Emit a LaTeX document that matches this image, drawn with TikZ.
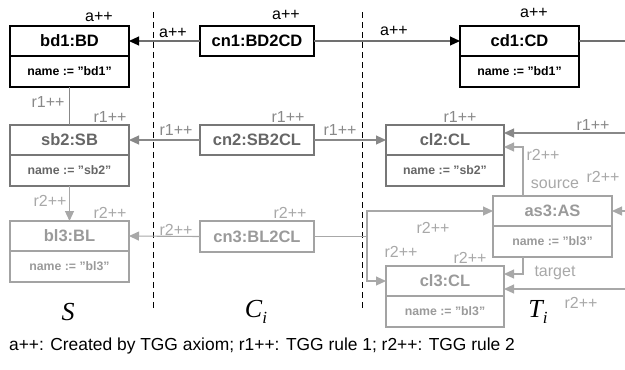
\documentclass[tikz,border=0pt]{standalone}
\usepackage{fontspec}
\setmainfont{Liberation Sans}
\newfontfamily\serifit{Liberation Serif}
\usetikzlibrary{arrows.meta,calc}

\definecolor{txtB}{HTML}{666666}
\definecolor{boxB}{HTML}{777777}
\definecolor{txtC}{HTML}{9A9A9A}
\definecolor{boxC}{HTML}{A3A3A3}
\definecolor{lnA}{HTML}{707070}
\definecolor{lnB}{HTML}{888888}
\definecolor{lnC}{HTML}{A8A8A8}

\tikzset{
  hdr/.style={draw, rectangle, outer sep=0pt, inner sep=0pt, anchor=north west,
    minimum width=119pt, minimum height=30pt,
    font=\fontsize{16.5}{18}\selectfont\bfseries},
  bdy/.style={draw, rectangle, outer sep=0pt, inner sep=0pt, anchor=north,
    minimum width=119pt, minimum height=31pt,
    font=\fontsize{12.3}{14}\selectfont\bfseries},
  lvA/.style={line width=1.4pt, draw=black, text=black},
  lvB/.style={line width=1.2pt, draw=boxB, text=txtB},
  lvC/.style={line width=1.2pt, draw=boxC, text=txtC},
  tag/.style={inner sep=0pt, font=\fontsize{16}{18}\selectfont},
  tagA/.style={tag, text=black},
  tagB/.style={tag, text=lnB},
  tagC/.style={tag, text=lnC},
  lnkA/.style={draw=lnA, line width=1.1pt, -{Triangle[length=10pt,width=9pt,fill=black,color=black]}},
  lnkAplain/.style={draw=lnA, line width=1.1pt},
  lnkB/.style={draw=lnB, line width=1.1pt, -{Triangle[length=10pt,width=9pt]}},
  lnkBplain/.style={draw=lnB, line width=1.1pt},
  lnkC/.style={draw=lnC, line width=1.1pt, -{Triangle[length=10pt,width=9pt]}},
  lnkCplain/.style={draw=lnC, line width=1.1pt},
  domtag/.style={font=\fontsize{26}{28}\selectfont\serifit\itshape, inner sep=0pt},
}

\begin{document}
\begin{tikzpicture}[x=1pt, y=-1pt]
\useasboundingbox (0,0) rectangle (625,370);

% domain separators
\draw[line width=0.9pt, dash pattern=on 6pt off 4pt] (153,12) -- (153,310);
\draw[line width=0.9pt, dash pattern=on 6pt off 4pt] (362,12) -- (362,310);

% ---- axiom row ----
\node[hdr, lvA] (bd1) at (10,26) {bd1:BD};
\node[bdy, lvA] (bd1b) at (bd1.south) {name := "bd1"};
\node[hdr, lvA, minimum width=114pt] (cn1) at (200,26) {cn1:BD2CD};
\node[hdr, lvA] (cd1) at (460,26) {cd1:CD};
\node[bdy, lvA] (cd1b) at (cd1.south) {name := "bd1"};

% ---- rule 1 row ----
\node[hdr, lvB] (sb2) at (10,125) {sb2:SB};
\node[bdy, lvB] (sb2b) at (sb2.south) {name := "sb2"};
\node[hdr, lvB, minimum width=114pt] (cn2) at (200,125) {cn2:SB2CL};
\node[hdr, lvB, minimum width=118pt] (cl2) at (386,125) {cl2:CL};
\node[bdy, lvB, minimum width=118pt] (cl2b) at (cl2.south) {name := "sb2"};

% ---- rule 2 row ----
\node[hdr, lvC] (bl3) at (10,221) {bl3:BL};
\node[bdy, lvC] (bl3b) at (bl3.south) {name := "bl3"};
\node[hdr, lvC, minimum width=114pt, minimum height=31pt] (cn3) at (200,221) {cn3:BL2CL};
\node[hdr, lvC] (as3) at (493,196) {as3:AS};
\node[bdy, lvC] (as3b) at (as3.south) {name := "bl3"};
\node[hdr, lvC, minimum width=118pt] (cl3) at (386,266) {cl3:CL};
\node[bdy, lvC, minimum width=118pt] (cl3b) at (cl3.south) {name := "bl3"};

% free ends at the right border and bend points
\coordinate (edge) at (625,0);
\coordinate (inA) at (625,133);
\coordinate (inB) at (625,289);
\coordinate (srcbend) at (523,147);
\coordinate (tgtbend) at (523,274);
\coordinate (fork) at (367,237);

% ---- connectors ----
\draw[lnkA] (cn1.west) -- (bd1.east);
\draw[lnkA] (cn1.east) -- (cd1.west);
\draw[lnkAplain] (cd1.east) -- (cd1.east -| edge);

\draw[lnkBplain] (bd1b.south) -- (sb2.north);
\draw[lnkB] (cn2.west) -- (sb2.east);
\draw[lnkB] (cn2.east) -- (cl2.west);
\draw[lnkB] (inA) -- (inA -| cl2.east);

\draw[lnkC] (sb2b.south) -- (bl3.north);
\draw[lnkC] (cn3.west) -- (bl3.east);
\draw[lnkCplain] (cn3.east) -- (fork |- cn3.east);
\draw[lnkC] (fork |- cn3.east) |- (as3.west);
\draw[lnkC] (fork |- cn3.east) |- (cl3.west);
\draw[lnkC] (srcbend |- as3.north) |- (cl2.east |- srcbend);
\draw[lnkC] (tgtbend |- as3b.south) |- (cl3.east |- tgtbend);
\draw[lnkC] (as3.east -| edge) -- (as3.east);
\draw[lnkC] (inB) -- (inB -| cl3.east);

% ---- labels ----
\node[tagA] (la1) at (99,17) {a++};
\node[tagA] (la2) at (173,33) {a++};
\node[tagA] (la3) at (286,15) {a++};
\node[tagA] (la4) at (394,31) {a++};
\node[tagA] (la5) at (534,13) {a++};

\node[tagB] (lb1) at (48,102) {r1++};
\node[tagB] (lb2) at (110,117) {r1++};
\node[tagB] (lb3) at (176,130) {r1++};
\node[tagB] (lb4) at (288,117) {r1++};
\node[tagB] (lb5) at (340,130) {r1++};
\node[tagB] (lb6) at (460,117) {r1++};
\node[tagB] (lb7) at (593,125) {r1++};

\node[tagC] (lc1) at (50,201) {r2++};
\node[tagC] (lc2) at (110,213) {r2++};
\node[tagC] (lc3) at (176,230) {r2++};
\node[tagC] (lc4) at (290,213) {r2++};
\node[tagC] (lc5) at (433,228) {r2++};
\node[tagC] (lc6) at (401,252) {r2++};
\node[tagC] (lc7) at (470,258) {r2++};
\node[tagC] (lc8) at (543,155) {r2++};
\node[tagC] (lc9) at (603,177) {r2++};
\node[tagC] (lc10) at (581,303) {r2++};
\node[tagC] (lsrc) at (555,184) {source};
\node[tagC] (ltgt) at (555,273) {target};

% domain names
\node[domtag] (dS) at (68,312) {S};
\node[domtag] (dC) at (256,312) {C\raisebox{-0.22em}{\fontsize{17}{18}\selectfont i}};
\node[domtag] (dT) at (538,312) {T\raisebox{-0.22em}{\fontsize{17}{18}\selectfont i}};

% legend
\node[tagA, font=\fontsize{17.4}{19}\selectfont] (legend) at (262,346) {a++: Created by TGG axiom; r1++: TGG rule 1; r2++: TGG rule 2};
\end{tikzpicture}
\end{document}
